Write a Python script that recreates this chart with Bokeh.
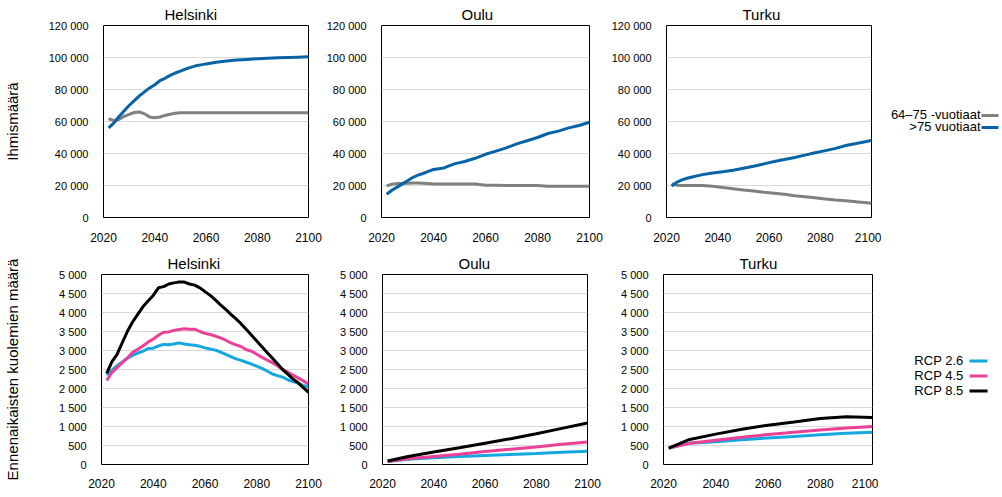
from bokeh.plotting import figure
from bokeh.layouts import row, column
from bokeh.models import Range1d, FixedTicker
from bokeh.core.properties import value
from bokeh.embed import file_html
from bokeh.resources import INLINE

FONT = "Liberation Sans"

# ---------------- data ----------------
cities = ["Helsinki", "Oulu", "Turku"]
age_labels = ["64\u201375 -vuotiaat", ">75 vuotiaat"]
rcp_labels = ["RCP 2.6", "RCP 4.5", "RCP 8.5"]

hki_years = [2022, 2024, 2026, 2028, 2030, 2032, 2034, 2036, 2038, 2040, 2042, 2044, 2046,
             2048, 2050, 2052, 2054, 2056, 2058, 2060, 2064, 2068, 2072, 2076, 2080, 2084,
             2088, 2092, 2096, 2100]
hki_6475 = [61700, 60700, 61300, 63200, 64500, 65600, 66000, 64800, 62800, 62300, 62800, 63800,
            64500, 65100, 65400, 65400, 65400, 65400, 65400, 65400, 65400, 65400, 65400, 65400,
            65400, 65400, 65400, 65400, 65400, 65400]
hki_75 = [56000, 59000, 63000, 66500, 70000, 73000, 76000, 78500, 81000, 83000, 85500, 87000,
          88800, 90300, 91500, 92800, 93800, 94800, 95400, 96000, 97000, 97800, 98400, 98800,
          99200, 99600, 99800, 100000, 100200, 100400]

oulu_years = [2022, 2024, 2026, 2028, 2030, 2032, 2034, 2036, 2038, 2040, 2044, 2048, 2052,
              2056, 2060, 2064, 2068, 2072, 2076, 2080, 2084, 2088, 2092, 2096, 2100]
oulu_6475 = [19800, 20800, 21200, 21300, 21400, 21500, 21500, 21400, 21200, 21000, 21000, 21000,
             21000, 20900, 20200, 20100, 20000, 20000, 20000, 20000, 19600, 19500, 19500, 19500,
             19500]
oulu_75 = [14500, 17000, 19000, 21000, 23000, 25000, 26500, 27500, 28800, 30000, 31000, 33500,
           35000, 37000, 39500, 41500, 43500, 46000, 48000, 50000, 52500, 54000, 56000, 57500,
           59500]

turku_years = [2022, 2024, 2026, 2028, 2030, 2034, 2038, 2042, 2046, 2050, 2054, 2058, 2062,
               2066, 2070, 2074, 2078, 2082, 2086, 2090, 2094, 2098, 2100]
turku_6475 = [21000, 20200, 20000, 20000, 20000, 20000, 19500, 18700, 18000, 17200, 16500, 15800,
              15200, 14500, 13600, 13000, 12400, 11600, 11000, 10500, 9800, 9200, 8900]
turku_75 = [19700, 22000, 23500, 24500, 25300, 26800, 27800, 28600, 29500, 30800, 32000, 33500,
            35000, 36200, 37500, 39000, 40500, 41800, 43200, 45000, 46200, 47500, 48200]

hki_d_years = list(range(2022, 2101, 2))
hki_rcp85 = [2400, 2700, 2900, 3200, 3500, 3750, 3950, 4150, 4300, 4450, 4650, 4680, 4750, 4780,
             4800, 4800, 4750, 4720, 4650, 4550, 4450, 4330, 4200, 4080, 3950, 3830, 3700, 3550,
             3400, 3250, 3100, 2950, 2800, 2650, 2500, 2380, 2250, 2150, 2020, 1900]
hki_rcp45 = [2210, 2420, 2550, 2680, 2800, 2950, 3030, 3120, 3220, 3300, 3400, 3480, 3490, 3530,
             3550, 3570, 3560, 3560, 3500, 3450, 3420, 3380, 3330, 3270, 3200, 3150, 3100, 3020,
             2980, 2900, 2820, 2750, 2680, 2600, 2500, 2430, 2350, 2280, 2200, 2120]
hki_rcp26 = [2360, 2480, 2600, 2700, 2800, 2870, 2930, 2980, 3050, 3060, 3120, 3160, 3150, 3170,
             3200, 3170, 3150, 3140, 3110, 3070, 3040, 3010, 2960, 2900, 2840, 2780, 2740, 2690,
             2640, 2590, 2530, 2460, 2380, 2340, 2300, 2230, 2180, 2140, 2080, 2040]

dec_years = [2022, 2030, 2040, 2050, 2060, 2070, 2080, 2090, 2100]
oulu_rcp85 = [90, 210, 330, 440, 560, 680, 810, 950, 1090]
oulu_rcp45 = [80, 150, 210, 270, 340, 400, 460, 530, 590]
oulu_rcp26 = [80, 140, 180, 210, 240, 265, 290, 320, 350]
turku_rcp85 = [430, 660, 800, 930, 1035, 1120, 1210, 1255, 1237]
turku_rcp45 = [430, 560, 640, 720, 790, 850, 910, 960, 1000]
turku_rcp26 = [430, 560, 600, 650, 700, 740, 780, 820, 850]

x_ticks = [2020, 2040, 2060, 2080, 2100]
pop_ticks = [0, 20000, 40000, 60000, 80000, 100000, 120000]
death_ticks = list(range(0, 5001, 500))

age_colors = ["#808080", "#0563a6"]
rcp_colors = ["#14a8e0", "#ec3f96", "#000000"]


def fmt(v):
    return f"{v:,}".replace(",", " ")


def make_fig(title, title_off, fw, fh, left, right, top, bottom, yticks, ylabel=None,
             label_standoff=25, x_standoff=9):
    p = figure(frame_width=fw, frame_height=fh, min_border_left=left, min_border_right=right,
               min_border_top=top, min_border_bottom=bottom,
               x_range=Range1d(2020, 2100), y_range=Range1d(0, yticks[-1]),
               output_backend="svg", toolbar_location=None)
    p.title.text = title
    p.title.align = "left"
    p.title.offset = title_off
    p.title.text_font = FONT
    p.title.text_font_size = "15px"
    p.title.text_font_style = "normal"
    p.title.text_color = "#000000"
    p.title.standoff = 6
    p.outline_line_color = "#000000"
    p.outline_line_width = 1
    p.outline_line_alpha = 1
    p.xgrid.grid_line_color = None
    p.ygrid.grid_line_color = "#d9d9d9"
    p.ygrid.grid_line_width = 1
    p.xaxis.ticker = FixedTicker(ticks=x_ticks)
    p.yaxis.ticker = FixedTicker(ticks=yticks)
    p.yaxis.major_label_overrides = {t: fmt(t) for t in yticks}
    for ax in (p.xaxis, p.yaxis):
        ax.axis_line_color = None
        ax.major_tick_line_color = None
        ax.minor_tick_line_color = None
        ax.major_label_text_font = FONT
        ax.major_label_text_color = "#000000"
    p.xaxis.major_label_text_font_size = "12px"
    p.yaxis.major_label_text_font_size = "11px"
    p.xaxis.major_label_standoff = x_standoff
    p.yaxis.major_label_standoff = 9
    if ylabel:
        p.yaxis.axis_label = ylabel
        p.yaxis.axis_label_text_font = FONT
        p.yaxis.axis_label_text_font_size = "15px"
        p.yaxis.axis_label_text_font_style = "normal"
        p.yaxis.axis_label_text_color = "#000000"
        p.yaxis.axis_label_standoff = label_standoff
    return p


def legend_fig(w, fh, top, bottom, labels, colors, text_right, line_x0, line_x1, y0, dy):
    # pixel-like coordinate space inside a frame aligned with the neighbouring plot frames:
    # x to the right, y downward from the frame's top edge
    p = figure(frame_width=w, frame_height=fh, min_border_top=top, min_border_bottom=bottom,
               min_border_left=0, min_border_right=0, title=None,
               x_range=Range1d(0, w), y_range=Range1d(fh, 0),
               x_axis_type=None, y_axis_type=None, output_backend="svg", toolbar_location=None)
    p.outline_line_color = None
    p.grid.visible = False
    ys = [y0 + i * dy for i in range(len(labels))]
    p.text(x=[text_right] * len(labels), y=ys, text=labels, text_align="right",
           text_baseline="middle", text_font=value(FONT), text_font_size="13px",
           text_color="#000000")
    p.segment(x0=[line_x0] * len(labels), y0=[y + 1 for y in ys], x1=[line_x1] * len(labels),
              y1=[y + 1 for y in ys], line_color=colors, line_width=3)
    return p


# ---------------- top row ----------------
top_data = [(hki_years, hki_6475, hki_75), (oulu_years, oulu_6475, oulu_75),
            (turku_years, turku_6475, turku_75)]
top_geom = [(61, 205, 192, 93, 15, 21, 32), (80, 208, 192, 57, 15, 21, 32),
            (76, 205, 192, 62, 10, 21, 32)]
top_figs = []
for i, (city, (yrs, a, b), g) in enumerate(zip(cities, top_data, top_geom)):
    off, fw, fh, l, r, t, bt = g
    p = make_fig(city, off, fw, fh, l, r, t, bt, pop_ticks,
                 ylabel="Ihmism\u00e4\u00e4r\u00e4" if i == 0 else None, label_standoff=25)
    p.line(yrs, a, line_color=age_colors[0], line_width=3)
    p.line(yrs, b, line_color=age_colors[1], line_width=3)
    top_figs.append(p)
top_leg = legend_fig(119, 192, 21, 32, age_labels, age_colors, 99, 100, 117, 89, 12)

# ---------------- bottom row ----------------
bot_data = [(hki_d_years, hki_rcp26, hki_rcp45, hki_rcp85),
            (dec_years, oulu_rcp26, oulu_rcp45, oulu_rcp85),
            (dec_years, turku_rcp26, turku_rcp45, turku_rcp85)]
bot_geom = [(66, 207, 190, 93, 15, 24, 26), (76, 205, 190, 59, 15, 24, 26),
            (76, 209, 190, 61, 6, 24, 26)]
bot_figs = []
for i, (city, (yrs, s26, s45, s85), g) in enumerate(zip(cities, bot_data, bot_geom)):
    off, fw, fh, l, r, t, bt = g
    p = make_fig(city, off, fw, fh, l, r, t, bt, death_ticks,
                 ylabel="Ennenaikaisten kuolemien m\u00e4\u00e4r\u00e4" if i == 0 else None,
                 label_standoff=35, x_standoff=8)
    for s, c in zip((s26, s45, s85), rcp_colors):
        p.line(yrs, s, line_color=c, line_width=3)
    bot_figs.append(p)
bot_leg = legend_fig(119, 190, 24, 26, rcp_labels, rcp_colors, 85, 91, 109, 85.5, 15)

layout = column(row(*top_figs, top_leg), row(*bot_figs, bot_leg))
open("out.html", "w").write(file_html(layout, INLINE))
